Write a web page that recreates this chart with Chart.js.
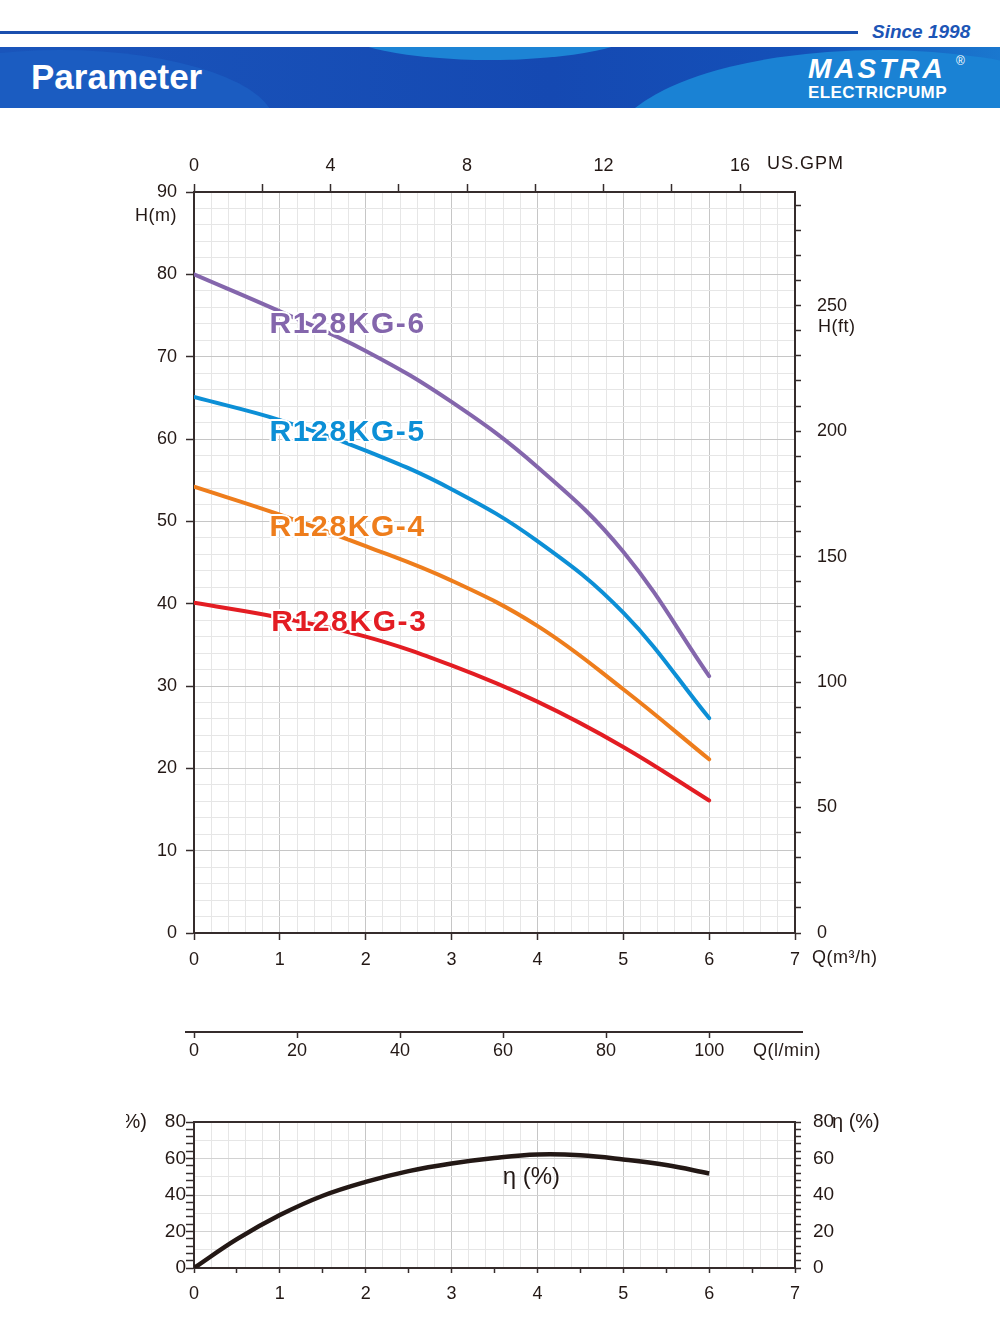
<!DOCTYPE html>
<html>
<head>
<meta charset="utf-8">
<script src="https://cdn.jsdelivr.net/npm/chart.js@4.4.1/dist/chart.umd.min.js"></script>
<style>
body{margin:0;background:#fff;width:1000px;height:1340px;position:relative;overflow:hidden;font-family:"Liberation Sans",Arial,sans-serif;}
.topline{position:absolute;left:0;top:31px;width:858px;height:3px;background:#1b4fae;}
.since{position:absolute;left:872px;top:21px;font-size:19px;line-height:22px;font-weight:bold;font-style:italic;color:#1c55b6;}
.banner{position:absolute;left:0;top:47px;width:1000px;height:61px;overflow:hidden;background:linear-gradient(90deg,#1a55bb 0%,#1549b2 55%,#1450b8 80%,#1a78cf 100%);}
.banner .w{position:absolute;border-radius:50%;}
.w1{left:340px;top:-50px;width:300px;height:63px;background:#1d84d5;}
.w2{left:-155px;top:3px;width:430px;height:150px;background:#1b5cc1;}
.w3{left:610px;top:3px;width:540px;height:200px;background:#1a82d4;}
.title{position:absolute;left:31px;top:12px;font-size:35px;line-height:36px;font-weight:bold;color:#fff;}
.brand{position:absolute;left:808px;top:8px;font-size:28px;line-height:28px;font-weight:bold;font-style:italic;color:#fff;letter-spacing:3px;}
.reg{position:absolute;left:956px;top:7px;font-size:12px;color:#fff;}
.sub{position:absolute;left:808px;top:37px;font-size:17px;line-height:18px;font-weight:bold;color:#fff;letter-spacing:0.4px;}
#headChart{position:absolute;left:0;top:120px;}
#effChart{position:absolute;left:0;top:1090px;}
</style>
</head>
<body>
<div class="topline"></div>
<div class="since">Since 1998</div>
<div class="banner">
  <div class="w w1"></div><div class="w w2"></div><div class="w w3"></div>
  <span class="title">Parameter</span>
  <span class="brand">MASTRA</span><span class="reg">®</span>
  <span class="sub">ELECTRICPUMP</span>
</div>
<canvas id="headChart" width="1000" height="960"></canvas>
<canvas id="effChart" width="1000" height="240"></canvas>
<script>
// flow Q (m3/h) and head H (m)
const flow = [0, 1, 2, 3, 4, 5, 6];
const headKG6 = [80.0, 75.5, 70.7, 64.5, 56.6, 46.3, 31.2];
const headKG5 = [65.1, 62.3, 58.6, 53.9, 47.6, 38.9, 26.1];
const headKG4 = [54.2, 50.8, 47.0, 42.8, 37.3, 29.6, 21.1];
const headKG3 = [40.1, 38.3, 36.0, 32.5, 28.1, 22.6, 16.1];
const models = ['R128KG-6', 'R128KG-5', 'R128KG-4', 'R128KG-3'];

// efficiency curve
const effFlow = [0, 0.5, 1, 1.5, 2, 2.5, 3, 3.5, 4, 4.5, 5, 5.5, 6];
const effValues = [0, 15.8, 29.0, 39.6, 47.2, 53.1, 57.3, 60.3, 62.2, 61.8, 59.5, 56.4, 51.8];

// axis labels
const gpmLabels = [0, 4, 8, 12, 16];
const lminLabels = [0, 20, 40, 60, 80, 100];
const ftLabels = [0, 50, 100, 150, 200, 250];

const DARK = '#352c2c';
const MAJOR = '#c6c6c6';
const MINOR = '#e6e6e6';
const NONE = 'rgba(0,0,0,0)';
const FONT = '"Liberation Sans", Arial, sans-serif';
Chart.defaults.font.family = FONT;
Chart.defaults.font.size = 18;
Chart.defaults.color = '#231815';

const isMult = (v, m) => Math.abs(v / m - Math.round(v / m)) < 1e-6;
const pts = (xs, ys) => xs.map((q, i) => ({x: q, y: ys[i]}));

// text that is not an axis tick
const unitText = {
  id: 'unitText',
  afterDraw(chart, args, opts) {
    const ctx = chart.ctx;
    (opts.items || []).forEach(t => {
      ctx.save();
      if (t.clipLeft !== undefined) {
        ctx.beginPath();
        ctx.rect(t.clipLeft, 0, chart.width, chart.height);
        ctx.clip();
      }
      ctx.fillStyle = '#231815';
      ctx.textBaseline = 'middle';
      ctx.font = (t.size || 18) + 'px ' + FONT;
      ctx.letterSpacing = (t.spacing || 0) + 'px';
      ctx.textAlign = t.align || 'left';
      const p = t.pos(chart.scales);
      ctx.fillText(t.text, p[0], p[1]);
      ctx.restore();
    });
  }
};

// model names on the curves
const curveLabels = {
  id: 'curveLabels',
  afterDatasetsDraw(chart) {
    const {ctx, scales: {x, y}} = chart;
    const labelAt = [[0.88, 73.85], [0.88, 60.73], [0.88, 49.19], [0.9, 37.65]];
    ctx.save();
    ctx.font = 'bold 30px ' + FONT;
    ctx.letterSpacing = '1.6px';
    ctx.textBaseline = 'middle';
    ctx.lineJoin = 'round';
    chart.data.datasets.forEach((ds, i) => {
      const px = x.getPixelForValue(labelAt[i][0]);
      const py = y.getPixelForValue(labelAt[i][1]);
      ctx.lineWidth = 4;
      ctx.strokeStyle = '#fff';
      ctx.strokeText(ds.label, px, py);
      ctx.fillStyle = ds.borderColor;
      ctx.fillText(ds.label, px, py);
    });
    ctx.restore();
  }
};

// the l/min line is a bit longer than the plot
const lminLine = {
  id: 'lminLine',
  afterDraw(chart) {
    const s = chart.scales.lmin;
    if (!s) return;
    const ctx = chart.ctx;
    ctx.save();
    ctx.strokeStyle = DARK;
    ctx.lineWidth = 2;
    ctx.beginPath();
    ctx.moveTo(chart.chartArea.left - 9, s.top);
    ctx.lineTo(chart.chartArea.right + 8, s.top);
    ctx.stroke();
    ctx.restore();
  }
};

const topFrame = {
  id: 'topFrame',
  afterDraw(chart, args, opts) {
    if (!opts.show) return;
    const {ctx, chartArea: a} = chart;
    ctx.save();
    ctx.strokeStyle = DARK;
    ctx.lineWidth = 2;
    ctx.beginPath();
    ctx.moveTo(a.left, a.top);
    ctx.lineTo(a.right + 1, a.top);
    ctx.stroke();
    ctx.restore();
  }
};

const headChart = document.getElementById('headChart').getContext('2d');
new Chart(headChart, {
  type: 'line',
  data: {
    datasets: [
      {label: models[0], data: pts(flow, headKG6), borderColor: '#8466ac'},
      {label: models[1], data: pts(flow, headKG5), borderColor: '#0c8fd6'},
      {label: models[2], data: pts(flow, headKG4), borderColor: '#ee7d1c'},
      {label: models[3], data: pts(flow, headKG3), borderColor: '#e31d23'}
    ].map(d => Object.assign(d, {borderWidth: 4, pointRadius: 0, tension: 0.4, borderCapStyle: 'round'}))
  },
  options: {
    responsive: false,
    animation: false,
    layout: {padding: 0},
    plugins: {
      legend: {display: false},
      tooltip: {enabled: false},
      topFrame: {show: false},
      unitText: {items: [
        {text: 'H(m)', align: 'right', spacing: 0.5, pos: s => [177, s.y.getPixelForValue(90) + 24]},
        {text: 'US.GPM', spacing: 1, pos: s => [767, 44]},
        {text: 'H(ft)', spacing: 0.5, pos: s => [818, s.yFt.getPixelForValue(250) + 21]},
        {text: 'Q(m³/h)', spacing: 0.5, pos: s => [812, 838]},
        {text: 'Q(l/min)', spacing: 0.5, pos: s => [753, s.lmin.top + 19]}
      ]}
    },
    scales: {
      x: {
        type: 'linear', position: 'bottom', min: 0, max: 7, weight: 0,
        ticks: {stepSize: 0.2, autoSkip: false, maxRotation: 0, padding: 9,
          callback: v => isMult(v, 1) ? String(Math.round(v)) : ''},
        grid: {color: c => isMult(c.tick.value, 1) ? MAJOR : MINOR, lineWidth: 1, tickLength: 7,
          tickColor: c => isMult(c.tick.value, 1) ? DARK : NONE, tickWidth: 1.5},
        border: {color: DARK, width: 2},
        afterFit: s => { s.height = 99; }
      },
      lmin: {
        type: 'linear', position: 'bottom', min: 0, max: 700 / 6, weight: 1,
        ticks: {stepSize: 20, includeBounds: false, autoSkip: false, maxRotation: 0, padding: 2,
          callback: v => lminLabels.includes(Math.round(v)) ? String(Math.round(v)) : ''},
        grid: {drawOnChartArea: false, tickLength: 6, tickColor: DARK, tickWidth: 1.5},
        border: {display: false},
        afterFit: s => { s.height = 48; }
      },
      xTop: {
        type: 'linear', position: 'top', min: 0, max: 16 / 0.9085,
        ticks: {stepSize: 2, includeBounds: false, autoSkip: false, maxRotation: 0, padding: 7,
          callback: v => gpmLabels.includes(Math.round(v)) ? String(Math.round(v)) : ''},
        grid: {drawOnChartArea: false, tickLength: 8, tickColor: DARK, tickWidth: 1.5},
        border: {color: DARK, width: 2},
        afterFit: s => { s.height = 72; }
      },
      y: {
        type: 'linear', position: 'left', min: 0, max: 90,
        ticks: {stepSize: 2, autoSkip: false, padding: 9,
          callback: v => isMult(v, 10) ? String(Math.round(v)) : ''},
        grid: {color: c => isMult(c.tick.value, 10) ? MAJOR : MINOR, lineWidth: 1, tickLength: 8,
          tickColor: c => isMult(c.tick.value, 10) ? DARK : NONE, tickWidth: 1.5},
        border: {color: DARK, width: 2},
        afterFit: s => { s.width = 194; }
      },
      yFt: {
        type: 'linear', position: 'right', min: 0, max: 90 * 3.28084,
        ticks: {stepSize: 10, includeBounds: false, autoSkip: false, padding: 16,
          callback: v => ftLabels.includes(Math.round(v)) ? String(Math.round(v)) : ''},
        grid: {drawOnChartArea: false, tickLength: 6, tickColor: DARK, tickWidth: 1.5},
        border: {color: DARK, width: 2},
        afterFit: s => { s.width = 205; }
      }
    }
  },
  plugins: [curveLabels, unitText, lminLine, topFrame]
});

const effChart = document.getElementById('effChart').getContext('2d');
new Chart(effChart, {
  type: 'line',
  data: {
    datasets: [{
      label: 'η (%)', data: pts(effFlow, effValues), borderColor: '#231815',
      borderWidth: 4.5, pointRadius: 0, tension: 0.4, borderCapStyle: 'butt'
    }]
  },
  options: {
    responsive: false,
    animation: false,
    layout: {padding: {top: 32}},
    plugins: {
      legend: {display: false},
      tooltip: {enabled: false},
      topFrame: {show: true},
      unitText: {items: [
        {text: 'η (%)', size: 20, align: 'right', clipLeft: 126, pos: s => [147, 32]},
        {text: 'η (%)', size: 20, pos: s => [832, 32]},
        {text: 'η (%)', size: 24, align: 'center', pos: s => [s.x.getPixelForValue(3.93), s.y.getPixelForValue(49.8)]}
      ]}
    },
    scales: {
      x: {
        type: 'linear', position: 'bottom', min: 0, max: 7,
        ticks: {stepSize: 0.1, autoSkip: false, maxRotation: 0, padding: 10,
          callback: v => isMult(v, 1) ? String(Math.round(v)) : ''},
        grid: {color: c => isMult(c.tick.value, 1) ? MAJOR : (isMult(c.tick.value, 0.2) ? MINOR : NONE),
          lineWidth: 1, tickLength: 5,
          tickColor: c => isMult(c.tick.value, 0.5) ? DARK : NONE, tickWidth: 1.5},
        border: {color: DARK, width: 2},
        afterFit: s => { s.height = 62; }
      },
      y: {
        type: 'linear', position: 'left', min: 0, max: 80,
        ticks: {stepSize: 2, autoSkip: false, padding: 0, font: {size: 19},
          callback: v => isMult(v, 20) ? String(Math.round(v)) : ''},
        grid: {color: c => isMult(c.tick.value, 20) ? '#d2d2d2' : (isMult(c.tick.value, 10) ? MINOR : NONE),
          lineWidth: 1, tickLength: 8,
          tickColor: c => isMult(c.tick.value, 4) ? DARK : NONE, tickWidth: 1.5},
        border: {color: DARK, width: 2},
        afterFit: s => { s.width = 194; }
      },
      yR: {
        type: 'linear', position: 'right', min: 0, max: 80,
        ticks: {stepSize: 2, autoSkip: false, padding: 12, font: {size: 19},
          callback: v => isMult(v, 20) ? String(Math.round(v)) : ''},
        grid: {drawOnChartArea: false, tickLength: 6,
          tickColor: c => isMult(c.tick.value, 4) ? DARK : NONE, tickWidth: 1.5},
        border: {color: DARK, width: 2},
        afterFit: s => { s.width = 205; }
      }
    }
  },
  plugins: [unitText, topFrame]
});
</script>
</body>
</html>
